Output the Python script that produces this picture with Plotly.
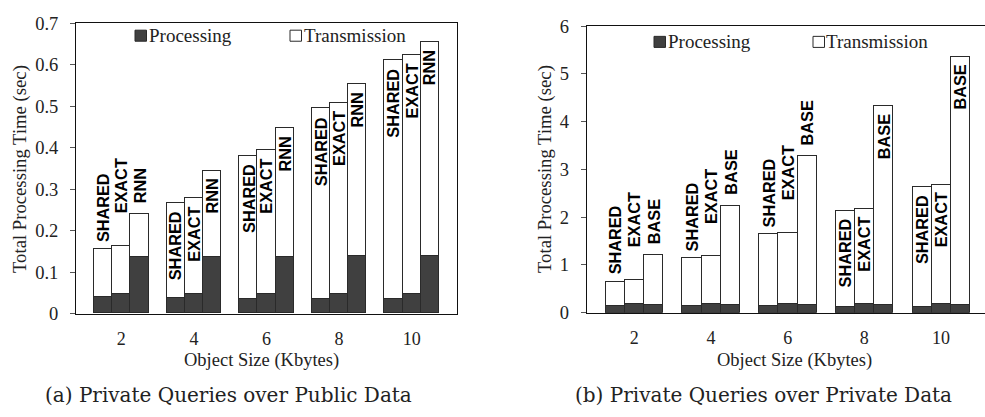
import plotly.graph_objects as go

# ---- data -------------------------------------------------------------
sizes = ["2", "4", "6", "8", "10"]          # object size (Kbytes)

# (a) Private queries over public data
methods_a = ["SHARED", "EXACT", "RNN"]
proc_a = {
    "SHARED": [0.040, 0.037, 0.035, 0.034, 0.034],
    "EXACT":  [0.047, 0.047, 0.047, 0.047, 0.047],
    "RNN":    [0.137, 0.137, 0.137, 0.138, 0.138],
}
trans_a = {
    "SHARED": [0.115, 0.230, 0.345, 0.460, 0.576],
    "EXACT":  [0.115, 0.231, 0.346, 0.460, 0.576],
    "RNN":    [0.103, 0.207, 0.310, 0.414, 0.517],
}

# (b) Private queries over private data
methods_b = ["SHARED", "EXACT", "BASE"]
proc_b = {
    "SHARED": [0.145, 0.140, 0.130, 0.125, 0.125],
    "EXACT":  [0.180, 0.180, 0.180, 0.180, 0.180],
    "BASE":   [0.165, 0.165, 0.165, 0.165, 0.165],
}
trans_b = {
    "SHARED": [0.503, 1.004, 1.510, 2.011, 2.514],
    "EXACT":  [0.495, 0.997, 1.487, 1.996, 2.499],
    "BASE":   [1.039, 2.070, 3.115, 4.160, 5.192],
}

# ---- styling ----------------------------------------------------------
W, H = 985, 417
SERIF = "Liberation Serif"
CAPTION_FONT = "DejaVu Serif"
LABEL_FONT = "Liberation Sans"
DARK = "#404040"
EDGE = "#2a2a2a"
BAR_W = 0.25
OUTSIDE_GAP = [6, 32, 10]   # px above bar top for labels placed outside
INSIDE_GAP = 7              # px below bar top for labels placed inside
LABEL_SIZE = 16.3
CHAR_PX = 11.7              # approx length of one bold capital, rotated


def px_x(x):
    return x / W


def px_y(y):
    return 1 - y / H


fig = go.Figure()

panels = [
    dict(methods=methods_a, proc=proc_a, trans=trans_a, xa="x", ya="y",
         xdom=[76 / W, 457 / W], ydom=[px_y(319), px_y(14)],
         xrange=[-0.625, 4.625], yrange=[0, 0.7], dtick=0.1,
         ytitle_x=20, xtitle_x=261, caption="(a) Private Queries over Public Data",
         caption_x=228, leg=[(135, 149, "Processing", DARK), (290, 304, "Transmission", "white")],
         leg_y=27, mirror_y=True),
    dict(methods=methods_b, proc=proc_b, trans=trans_b, xa="x2", ya="y2",
         xdom=[586.7 / W, 1.0], ydom=[px_y(318), px_y(17)],
         xrange=[-0.62, -0.62 + (W - 586.7) / 76.7], yrange=[0, 6], dtick=1,
         ytitle_x=545, xtitle_x=794, caption="(b) Private Queries over Private Data",
         caption_x=763, leg=[(654, 668, "Processing", DARK), (813, 826, "Transmission", "white")],
         leg_y=33.5, mirror_y=False),
]

annotations = []
shapes = []

for p in panels:
    xs_idx = list(range(len(sizes)))
    y0, y1 = p["ydom"]
    ypx_per_unit = (y1 - y0) * H / (p["yrange"][1] - p["yrange"][0])
    # stacked bars: processing at the bottom, transmission on top
    for j, m in enumerate(p["methods"]):
        xpos = [i + (j - 1) * BAR_W for i in xs_idx]
        fig.add_trace(go.Bar(
            x=xpos, y=p["proc"][m], width=BAR_W, xaxis=p["xa"], yaxis=p["ya"],
            marker=dict(color=DARK, line=dict(color=EDGE, width=1)),
            name="Processing", showlegend=False, hoverinfo="skip"))
        fig.add_trace(go.Bar(
            x=xpos, y=p["trans"][m], width=BAR_W, xaxis=p["xa"], yaxis=p["ya"],
            marker=dict(color="white", line=dict(color=EDGE, width=1)),
            name="Transmission", showlegend=False, hoverinfo="skip"))

    # method labels: inside the bar when every label of the group fits, else above
    for i in xs_idx:
        fits = all(
            p["trans"][m][i] * ypx_per_unit >= len(m) * CHAR_PX + 2 * INSIDE_GAP
            for m in p["methods"])
        for j, m in enumerate(p["methods"]):
            total = p["proc"][m][i] + p["trans"][m][i]
            annotations.append(dict(
                x=i + (j - 1) * BAR_W, y=total, xref=p["xa"], yref=p["ya"],
                text=f"<b>{m}</b>", textangle=-90, showarrow=False,
                xanchor="center", yanchor="top" if fits else "bottom",
                yshift=-INSIDE_GAP if fits else OUTSIDE_GAP[j], borderpad=0,
                font=dict(family=LABEL_FONT, size=LABEL_SIZE, color="black")))

    # axis titles
    annotations.append(dict(
        x=px_x(p["ytitle_x"]), y=px_y(167), xref="paper", yref="paper",
        text="Total Processing Time (sec)", textangle=-90, showarrow=False,
        xanchor="center", yanchor="middle",
        font=dict(family=SERIF, size=18.7, color="#222")))
    annotations.append(dict(
        x=px_x(p["xtitle_x"]), y=px_y(368), xref="paper", yref="paper",
        text="Object Size (Kbytes)", showarrow=False,
        xanchor="center", yanchor="middle", borderpad=0,
        font=dict(family=SERIF, size=18.5, color="#222")))
    # caption
    annotations.append(dict(
        x=px_x(p["caption_x"]), y=px_y(404), xref="paper", yref="paper",
        text=p["caption"], showarrow=False, xanchor="center", yanchor="middle",
        borderpad=0, font=dict(family=CAPTION_FONT, size=20, color="#222")))

    # legend keys
    for sx, tx, label, fill in p["leg"]:
        shapes.append(dict(
            type="rect", xref="paper", yref="paper",
            x0=px_x(sx), x1=px_x(sx + 11.5),
            y0=px_y(p["leg_y"] + 5.8), y1=px_y(p["leg_y"] - 5.8),
            fillcolor=fill, line=dict(color=EDGE, width=1)))
        annotations.append(dict(
            x=px_x(tx - 1), y=px_y(p["leg_y"]), xref="paper", yref="paper",
            text=label, showarrow=False, xanchor="left", yanchor="middle",
            borderpad=0, font=dict(family=SERIF, size=19, color="#222")))

axis_font = dict(family=SERIF, size=18.5, color="#222")
for k, p in enumerate(panels):
    suffix = "" if k == 0 else "2"
    fig.update_layout(**{
        f"xaxis{suffix}": dict(
            domain=p["xdom"], range=p["xrange"], anchor=p["ya"],
            tickmode="array", tickvals=list(range(len(sizes))), ticktext=sizes,
            ticks="", showgrid=False, zeroline=False,
            showline=True, linecolor="#111", linewidth=1, mirror=True,
            tickfont=dict(family=SERIF, size=18, color="#222"),
            ticklabelstandoff=9),
        f"yaxis{suffix}": dict(
            domain=p["ydom"], range=p["yrange"], anchor=p["xa"],
            dtick=p["dtick"], tick0=0, ticks="outside", ticklen=5,
            tickcolor="#555", showgrid=False, zeroline=False,
            showline=True, linecolor="#111", linewidth=1,
            mirror=p["mirror_y"], tickfont=axis_font, ticklabelstandoff=8),
    })

fig.update_layout(
    width=W, height=H, barmode="stack", bargap=0,
    margin=dict(l=0, r=0, t=0, b=0),
    paper_bgcolor="white", plot_bgcolor="white",
    showlegend=False, annotations=annotations, shapes=shapes)

fig.write_html("out.html")
